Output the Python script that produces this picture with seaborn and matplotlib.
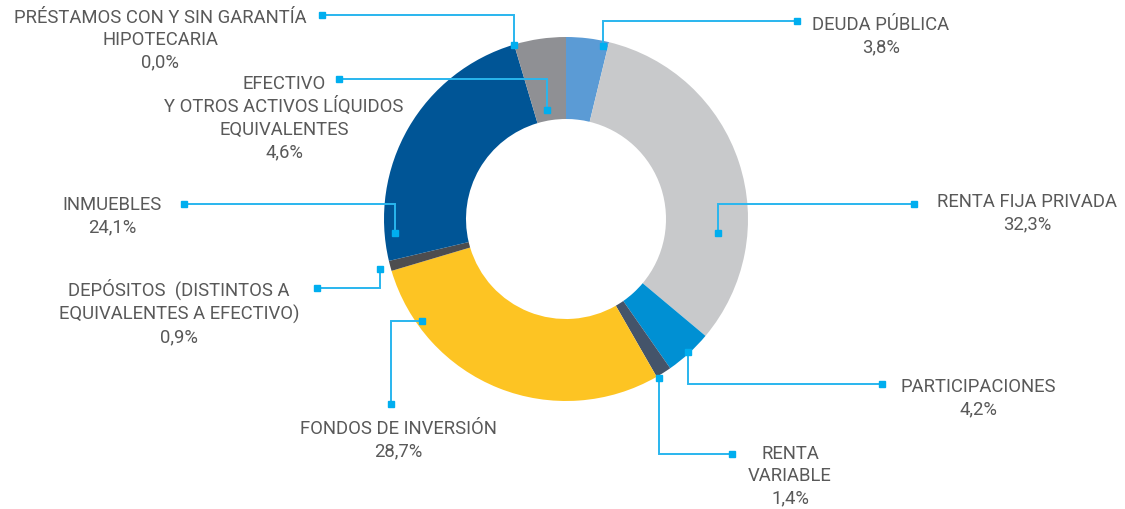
import numpy as np
import matplotlib
matplotlib.use("Agg")
import matplotlib.pyplot as plt
import seaborn as sns

# datos de la cartera (orden horario desde arriba)
categorias = [
    "DEUDA PÚBLICA",
    "RENTA FIJA PRIVADA",
    "PARTICIPACIONES",
    "RENTA\nVARIABLE",
    "FONDOS DE INVERSIÓN",
    "DEPÓSITOS  (DISTINTOS A\nEQUIVALENTES A EFECTIVO)",
    "INMUEBLES",
    "PRÉSTAMOS CON Y SIN GARANTÍA\nHIPOTECARIA",
    "EFECTIVO\nY OTROS ACTIVOS LÍQUIDOS\nEQUIVALENTES",
]
porcentajes = [3.8, 32.3, 4.2, 1.4, 28.7, 0.9, 24.1, 0.0, 4.6]
colores = ["#5B9BD5", "#C8C9CB", "#0090D3", "#44546A", "#FDC423",
           "#4D4D4F", "#005596", "#D0D0D0", "#8F9094"]

# layout de las etiquetas (pixeles de la imagen, y hacia abajo)
anc_frac = [0.88, 0.70, 0.50, 0.90, 0.82, 0.50, 0.10, 0.0, 0.41]
anc_rad = [0.97, 0.84, 0.99, 1.01, 0.97, 1.06, 0.94, 1.0, 0.61]
modo = ["vh", "vh", "vh", "vh", "hv", "vh", "vh", "vh", "vh"]
fin = [(797, 22), (914, 205), (882, 385), (732, 455), (391, 405),
       (317, 289), (184, 205), (322, 16), (339, 80)]
pos_txt = [(881, 36), (1027, 213), (978, 398), (790, 476), (398, 440),
           (179, 313), (112, 216), (160, 40), (284, 118)]

W, H = 1125, 510
CX, CY, R, ANCHO = 566, 220, 182, 82
C_LINEA = "#29B6EE"
C_MARCA = "#00AEEF"
C_TEXTO = "#595959"

sns.set_theme(style="white")
plt.rcParams['font.family'] = ['Roboto', 'DejaVu Sans']
sns.set_palette(colores)

fig = plt.figure(figsize=(W / 100, H / 100), dpi=100)
ax = fig.add_axes([0, 0, 1, 1])


def py(y):
    return H - y


wedges, _ = ax.pie(porcentajes, colors=colores, startangle=90, counterclock=False,
                   radius=R, center=(CX, py(CY)),
                   wedgeprops=dict(width=ANCHO, linewidth=0))
ax.set_xlim(0, W)
ax.set_ylim(0, H)
ax.set_aspect('equal')
ax.axis('off')

for i, w in enumerate(wedges):
    ang = np.deg2rad(w.theta2 - anc_frac[i] * (w.theta2 - w.theta1))
    ax_x = CX + anc_rad[i] * R * np.cos(ang)
    ax_y = py(CY) + anc_rad[i] * R * np.sin(ang)
    ex, ey = fin[i][0], py(fin[i][1])
    if modo[i] == "vh":
        xs, ys = [ax_x, ax_x, ex], [ax_y, ey, ey]
    else:
        xs, ys = [ax_x, ex, ex], [ax_y, ax_y, ey]
    ax.plot(xs, ys, color=C_LINEA, lw=1.4, zorder=3, solid_joinstyle='miter')
    ax.plot([ax_x, ex], [ax_y, ey], ls='none', marker='s', ms=4.6,
            color=C_MARCA, zorder=4)
    txt = categorias[i] + "\n" + f"{porcentajes[i]:.1f}".replace('.', ',') + "%"
    ax.text(pos_txt[i][0], py(pos_txt[i][1]), txt, ha='center', va='center',
            multialignment='center', fontsize=13.3, color=C_TEXTO, linespacing=1.32)

fig.savefig("out.png", dpi=100, facecolor="white")
